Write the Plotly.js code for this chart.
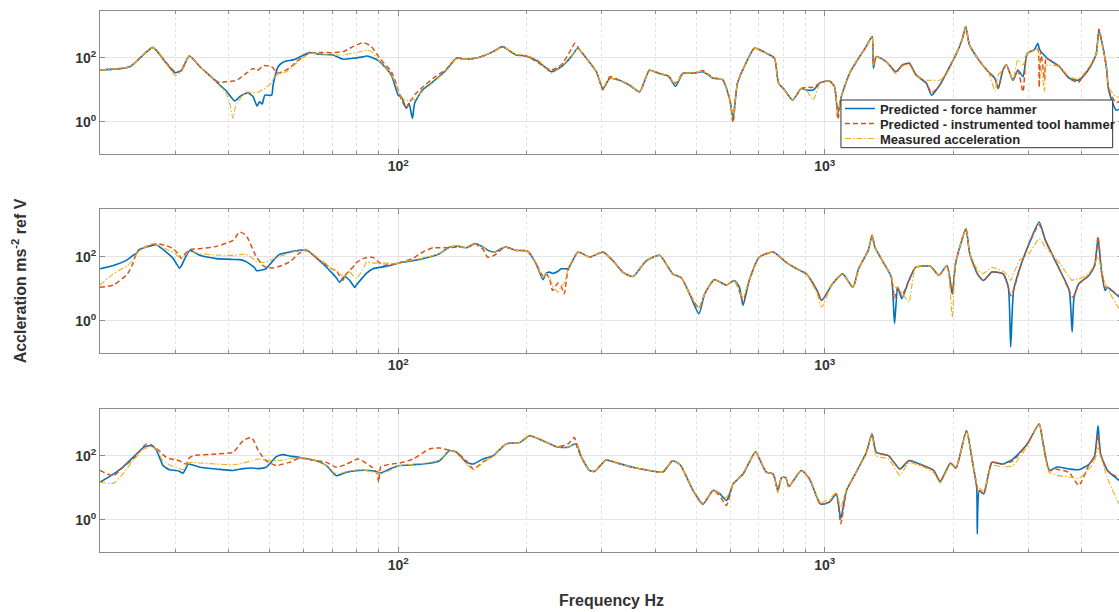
<!DOCTYPE html>
<html>
<head>
<meta charset="utf-8">
<script src="https://cdn.plot.ly/plotly-3.0.1.min.js"></script>
<style>
html,body{margin:0;padding:0;overflow:hidden;background:#fff;}
#chart{width:1125px;height:612px;}
</style>
</head>
<body>
<div id="chart"></div>
<script>
// ---------- Data (Hz, acceleration ms^-2 ref V) ----------
// Top panel
const freqTop = [20,23.5,26.6,28.6,30,31,32.4,34.3,36.8,38,39.5,40.2,41,41.4,41.9,42.5,44,44.5,45.7,46.7,47.3,48,48.7,50.5,50.9,52.3,53.7,54.7,56.7,57.7,62,65.4,70.3,74.3,78.4,82.7,84.2,86.5,90.5,96.4,100,101.7,104.5,106,108,109.3,114,120.7,129.7,137,144.5,155,167,175.5,189,199.5,213,228.5,241,254.5,259.5,263.6,276,291.4,302,313.5,330,348.6,368,388,408,430,446.8,465,491,518,547,576,599,609.5,624,653,684,729,762,779,800,841,880,905,939,977,1026,1054,1073,1093,1143,1200,1250,1291,1300,1320,1392,1467,1520,1578,1634,1730,1780,1858,1926,2028,2100,2139,2183,2295,2417,2505,2550,2615,2665,2761,2835,2915,2982,3095,3158,3180,3210,3275,3300,3360,3550,3741,3925,4028,4189,4330,4390,4500,4580,4627,4820,5000];
const forceTop = [42,53,211,68,34.5,40,115,53,23,15,9.4,7,5,4.5,5,6.1,7.8,8.1,6.1,3.1,4.2,3.6,6.8,6.8,14,53,73,80,87,95,147,130,124,91,98,108,115,105,77,29,6.8,6.1,2.6,3.8,1.27,3.8,9.9,18,42,98,91,105,158,227,124,115,77,37,53,110,160,202,98,37,11,23,20,14,8.7,41,33,27,13,33,33,37,23,21,4.8,1.3,16,68,202,141,98,16,11,4.8,11,9.9,9.9,16.8,19,12.5,1.8,6.1,33,98,227,467,47,110,77,37,60,68,30,16,6.8,14,33,124,387,968,256,87,37,23,11,42,60,20,42,26,141,178,290,200,158,120,105,87,53,23,20,26,53,141,723,178,42,9.9,2.3,3];
const toolTop = [42,53,215,70,37,40,115,53,23,17,18,18,19,19,20,23,33,36,47,40,45,55,58,53,48,33,38,42,60,77,141,147,147,158,227,303,280,227,98,37,10,5,2.6,4,5.4,7,12,23,45,98,91,105,158,227,124,115,70,42,60,188,290,220,98,37,10,26,20,14,8.7,41,33,27,16,33,33,40,24,21,5,0.95,16,68,202,141,98,17,11,4.8,11,12,12,16.8,19,12.5,1.2,6.1,33,98,227,467,60,110,77,37,60,68,30,16,8,14,33,124,387,968,256,87,37,23,11,42,60,20,42,8.7,141,178,190,12,158,20,100,87,53,23,17,26,53,141,800,178,42,9.9,4,5];
const measTop = [42,53,211,65,28,36,115,53,23,14,7.8,4.2,1.27,2.5,3.8,5,8.7,8.5,8.3,8.1,9,10,11,17,23,30,35,37,55,68,141,130,124,124,140,165,178,160,75,30,10,6,4.5,5,4.8,5,9,17,40,95,91,105,158,227,130,120,85,33,55,110,160,200,98,37,12,23,20,14,8.7,41,33,27,15,33,33,38,23,21,5,1.5,16,68,202,141,98,16,11,4.8,11,9.9,4.8,16.8,19,12.5,1.8,6.1,33,98,227,467,60,110,77,32,55,60,28,20,20,20,30,124,387,968,256,87,37,9.4,30,42,60,20,87,60,141,178,190,100,60,8.7,60,60,53,26,22,30,60,141,600,178,42,12,6.1,6];

// Middle panel
const freqMid = [20,21.5,23.2,23.9,24.4,24.7,26,26.5,27.1,28.6,29.7,30.7,31,31.6,32.5,34.3,37.5,41,42.5,44,46.1,46.5,48.2,49,50.9,52.7,55.6,58.7,60.9,65.4,66.6,70.3,71.6,72.9,74.3,74.9,77,79.1,79.8,82.7,84.2,87.3,92.1,93.8,99,100.8,108,114.3,120.7,125,132,139,144.5,151.5,158,162,168,178,189,201,210.5,218.5,222,226.5,230,237,241,245,250,264,281,302,318,336,355,381,410,440,461,482,507,523,551,588,614,631,643,665,702,757,810,859,905,959,983,1043,1101,1164,1200,1264,1291,1310,1370,1432,1457,1482,1515,1574,1634,1768,1851,1934,1990,2025,2100,2143,2187,2279,2353,2465,2618,2693,2727,2770,2870,3012,3180,3290,3560,3740,3800,3840,3940,4160,4290,4370,4450,4540,4600,4900,5000];
const forceMid = [42,53,81,110,130,165,210,225,237,139,87,44,50,87,157,110,87,82,81,70,45,37,39,42,75,118,140,157,165,75,60,29,22,16,22,24,18,11,13,23,30,42,48,50,60,65,75,87,105,124,200,210,190,255,200,160,139,200,157,150,60,19,30,33,30,35,42,42,42,139,97,139,77,33,24,73,110,29,22,6.9,1.64,6.9,19,13,18,11,3,18,97,139,68,42,29,8.8,4.3,14.3,29,11,42,157,463,200,68,23,0.81,11,4.9,18,47,50,26,53,6.9,60,365,750,124,29,18,33,29,11,0.15,8.8,47,255,1210,323,37,8.8,0.44,5.5,14.3,26,53,365,37,8.8,11,5.5,5];
const toolMid = [11,13,29,63,139,160,225,240,255,220,178,110,87,120,165,178,210,323,588,462,124,100,53,47,44,50,68,130,157,77,65,40,37,25,18.2,25,37,55,65,87,92,95,53,55,60,65,87,140,190,190,190,200,190,250,170,97,110,200,157,150,60,25,30,20,8.8,15,12,6.9,37,139,97,139,77,33,24,73,110,29,22,6.9,2.5,6.9,19,13,18,8,4,18,97,139,68,42,29,8.8,4.3,14.3,29,11,42,157,463,200,68,23,5,11,6,18,47,50,26,53,6.9,60,365,750,124,29,18,33,29,11,6,9,47,255,1000,323,37,8.8,5.5,6,14.3,26,53,430,37,11,11,6,5.5];
const measMid = [13,29,53,80,124,150,230,255,240,170,139,95,87,110,147,124,112,110,115,118,80,68,66,68,85,102,130,160,165,85,73,40,37,30,24,25,33,22,20.6,40,68,63,63,63,60,65,78,90,110,124,200,210,190,250,200,150,139,200,157,150,60,22,30,22,12,7.8,12,15,40,139,97,139,77,33,24,73,110,29,22,6.9,2.5,6.9,19,13,18,8,5.5,18,97,139,68,42,29,7,2.7,14.3,29,11,42,157,463,200,68,23,11,11,8,3.8,47,50,26,53,1.3,60,365,750,124,40,30,46,35,25,18,30,80,124,365,200,60,23,18,20,20,30,60,97,40,15,10,2.4,2.2];

// Bottom panel
const freqBot = [20,21.5,22.6,23.9,25.3,25.7,26.4,27.1,28.1,28.6,29.1,30.2,30.7,31.3,31.9,32.2,33,34.3,37.5,41,43.3,45.3,47,49,51.8,53.7,55.6,58.7,64.3,67.9,71.6,75.6,80.6,85.8,89,90,91,95.5,100.8,108.3,118.5,125,132,137,144.5,150,158,167,179,193,203,218.5,235,250,259,262,269,281,289,307,322,355,388,417,440,458,491,518,547,565,588,610,643,665,688,706,729,757,776,792,810,823,881,921,977,1026,1064,1090,1124,1178,1252,1290,1320,1410,1500,1574,1700,1800,1864,1970,2030,2148,2223,2270,2277,2302,2358,2465,2610,2760,2982,3180,3250,3360,3500,3740,3940,4170,4290,4370,4430,4600,4900,5000];
const forceBot = [15,27,44,90,186,200,210,154,50,42,37,35,33,29,45,56,52,44,39,35,40,42,40,44,95,110,100,90,71,50,24,31,35,35,32,30,29,39,50,53,59,71,147,130,63,56,80,102,237,266,430,300,195,186,237,237,90,35,33,75,63,44,35,31,71,53,8.3,3.1,8.3,7,4,13.3,27,63,135,71,31,27,8.3,21,21,11,35,19,3.1,3.6,6.5,1.1,8.3,27,130,485,130,102,39,71,50,35,16,59,42,616,56,10.4,0.36,8.3,6.5,63,56,80,237,1000,237,35,45,39,37,56,100,890,115,35,17,15];
const toolBot = [35,24,44,80,200,237,220,175,110,90,82,75,71,60,56,80,102,108,115,130,300,380,147,71,50,56,63,85,71,63,44,55,80,50,31,15,45,55,60,80,165,178,150,130,70,39,65,102,237,266,430,300,195,237,380,200,90,35,33,75,63,44,35,31,71,53,8.3,3.1,8.3,6,2.8,13.3,27,63,135,71,31,27,8.3,21,21,11,35,19,3.1,3.6,6.5,0.75,8.3,27,130,485,130,102,39,71,50,35,16,59,42,616,56,12,8,8.3,6.5,63,56,70,237,1000,237,35,38,30,12,56,100,450,115,35,20,18];
const measBot = [15,14,27,71,160,178,195,160,71,60,52,44,40,37,50,60,63,60,56,53,60,70,80,75,71,75,82,90,71,50,27,32,37,33,30,29,28,35,50,55,62,75,147,125,55,37,60,100,237,266,430,300,195,186,237,237,90,35,33,75,63,44,35,31,71,53,8.3,3.3,8.3,7,5,13.3,27,63,135,71,31,27,7,21,21,11,35,19,3.5,4.5,7,2.5,9,27,120,460,100,80,25,60,45,30,14,55,42,560,56,14,12,10,8,50,45,50,200,1000,200,30,25,22,20,40,70,180,100,20,3.1,2.5];

const seriesNames = ['Predicted - force hammer','Predicted - instrumented tool hammer','Measured acceleration'];
const seriesColors = ['#0072BD','#D95319','#EDB120'];
const legendIds = ['legend','legend2','legend3'];

// ---------- Build traces ----------
const panels = [
  {f: freqTop, s: [forceTop, toolTop, measTop]},
  {f: freqMid, s: [forceMid, toolMid, measMid]},
  {f: freqBot, s: [forceBot, toolBot, measBot]}
];
const lineStyles = [
  {width: 1.6, dash: 'solid'},
  {width: 1.5, dash: '5px,3px'},
  {width: 1.1, dash: '6px,2px,1.5px,2px'}
];
const traces = [];
panels.forEach((p, k) => {
  const ax = k === 0 ? '' : String(k + 1);
  p.s.forEach((vals, j) => {
    traces.push({
      type: 'scatter', mode: 'lines',
      x: p.f, y: vals,
      xaxis: 'x' + ax, yaxis: 'y' + ax,
      name: seriesNames[j],
      legend: legendIds[j],
      legendgroup: 'g' + j,
      showlegend: k === 0,
      line: {color: seriesColors[j], width: lineStyles[j].width, dash: lineStyles[j].dash,
             shape: 'spline', smoothing: 0.55},
      hoverinfo: 'x+y+name'
    });
  });
});

// ---------- Layout ----------
const frameColor = '#8c8c8c';
const xMinor = [30,40,50,60,70,80,90,200,300,400,500,600,700,800,900,2000,3000,4000];
function xAxis(anchor) {
  return {
    type: 'log', range: [Math.log10(20), Math.log10(5000)], anchor: anchor,
    tickmode: 'array', tickvals: [100, 1000],
    ticktext: ['10<sup>2</sup>', '10<sup>3</sup>'],
    tickfont: {size: 14, weight: 'bold', color: '#333'},
    showline: true, linecolor: frameColor, linewidth: 1, mirror: 'ticks',
    ticks: 'inside', ticklen: 5, tickcolor: frameColor,
    showgrid: true, gridcolor: '#e4e4e4', gridwidth: 1, zeroline: false,
    minor: {tickmode: 'array', tickvals: xMinor, showgrid: true, gridcolor: '#e2e2e2',
            griddash: 'dot', gridwidth: 1, ticks: 'inside', ticklen: 3, tickcolor: frameColor},
    fixedrange: true
  };
}
function yAxis(anchor, domain) {
  return {
    type: 'log', range: [-1, 3.48], anchor: anchor, domain: domain,
    tickmode: 'array', tickvals: [1, 100],
    ticktext: ['10<sup>0</sup>', '10<sup>2</sup>'],
    tickfont: {size: 14, weight: 'bold', color: '#333'},
    showline: true, linecolor: frameColor, linewidth: 1, mirror: 'ticks',
    ticks: 'inside', ticklen: 5, tickcolor: frameColor,
    showgrid: true, gridcolor: '#e4e4e4', gridwidth: 1, zeroline: false,
    fixedrange: true
  };
}
// one legend per series so the rows can sit as close as in the reference
function legendAt(yPaper) {
  return {
    x: 0.7233, y: yPaper, xanchor: 'left', yanchor: 'middle',
    bgcolor: 'rgba(0,0,0,0)', borderwidth: 0,
    font: {size: 13, weight: 'bold', color: '#262626'},
    itemwidth: 30
  };
}

const layout = {
  width: 1125, height: 612,
  margin: {l: 100, r: 2, t: 0, b: 0},
  paper_bgcolor: '#ffffff', plot_bgcolor: '#ffffff',
  font: {family: '"Liberation Sans", Arial, Helvetica, sans-serif', color: '#333'},
  showlegend: true,
  legend: legendAt(1 - 108.5 / 612),
  legend2: legendAt(1 - 123.5 / 612),
  legend3: legendAt(1 - 138.5 / 612),
  shapes: [{
    type: 'rect', xref: 'paper', yref: 'paper', layer: 'above',
    x0: 0.7243, x1: 0.9899, y0: 1 - 147.7 / 612, y1: 1 - 100 / 612,
    fillcolor: '#ffffff', line: {color: '#333', width: 1}
  }],
  xaxis: xAxis('y'),
  yaxis: yAxis('x', [0.7489, 0.9825]),
  xaxis2: xAxis('y2'),
  yaxis2: Object.assign(yAxis('x2', [0.4237, 0.6580]), {
    title: {text: 'Accleration ms<sup>-2</sup> ref V', font: {size: 16, weight: 'bold', color: '#333'}, standoff: 44}
  }),
  xaxis3: Object.assign(xAxis('y3'), {
    title: {text: 'Frequency Hz', font: {size: 16, weight: 'bold', color: '#333'}, standoff: 23}
  }),
  yaxis3: yAxis('x3', [0.0985, 0.3322])
};

Plotly.newPlot('chart', traces, layout, {displayModeBar: false, staticPlot: true});
</script>
</body>
</html>
